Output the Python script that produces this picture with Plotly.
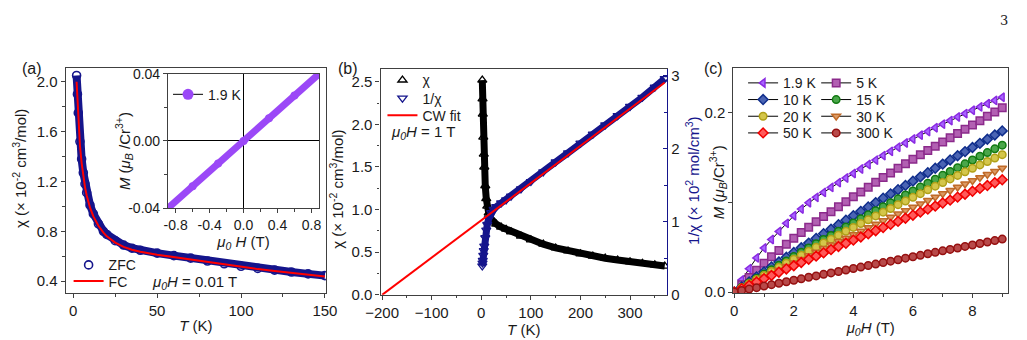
import plotly.graph_objects as go

# ---------------- data ----------------
# (a) susceptibility at mu0H = 0.01 T
T_a = [2, 2.5, 3, 4, 5, 6, 7, 8, 10, 12, 15, 18, 20, 25, 30, 35, 40, 50, 60, 70,
       80, 90, 100, 110, 120, 130, 140, 150]
chi_zfc = [2.05, 1.90, 1.75, 1.52, 1.38, 1.27, 1.18, 1.11, 1.01, 0.94, 0.86, 0.80,
           0.775, 0.725, 0.69, 0.665, 0.648, 0.625, 0.605, 0.585, 0.562, 0.54, 0.52,
           0.503, 0.489, 0.474, 0.459, 0.445]
chi_fc = [2.00, 1.86, 1.72, 1.49, 1.35, 1.24, 1.155, 1.09, 0.99, 0.92, 0.845, 0.79,
          0.76, 0.71, 0.675, 0.652, 0.636, 0.613, 0.594, 0.574, 0.552, 0.532, 0.513,
          0.497, 0.482, 0.467, 0.452, 0.438]

# (a) inset: M(H) at 1.9 K
H_in = [-0.89, -0.6, -0.3, 0.0, 0.3, 0.6, 0.89]
M_in = [-0.040, -0.0270, -0.0135, 0.0, 0.0135, 0.0270, 0.040]

# (b) susceptibility at 1 T and its inverse, Curie-Weiss fit
T_b = [2, 2.5, 3, 4, 5, 6, 8, 10, 12, 15, 20, 25, 30, 40, 50, 60, 80, 100, 125,
       150, 175, 200, 225, 250, 275, 300, 325, 350, 370]
chi_b = [2.52, 2.30, 2.12, 1.85, 1.65, 1.50, 1.28, 1.13, 1.04, 0.96, 0.89, 0.855,
         0.83, 0.795, 0.77, 0.74, 0.69, 0.645, 0.595, 0.55, 0.515, 0.482, 0.455,
         0.43, 0.408, 0.388, 0.37, 0.352, 0.338]
inv_chi_b = [0.397, 0.435, 0.472, 0.541, 0.606, 0.667, 0.781, 0.885, 0.962, 1.042,
             1.124, 1.170, 1.205, 1.258, 1.299, 1.351, 1.449, 1.550, 1.681, 1.818,
             1.942, 2.075, 2.198, 2.326, 2.451, 2.577, 2.703, 2.841, 2.959]
T_fit = [-200, 370]
inv_fit = [0.0, 2.906]

# (c) magnetization isotherms
H_c = [0, 0.25, 0.5, 0.75, 1, 1.25, 1.5, 1.75, 2, 2.25, 2.5, 2.75, 3, 3.25, 3.5,
       3.75, 4, 4.25, 4.5, 4.75, 5, 5.25, 5.5, 5.75, 6, 6.25, 6.5, 6.75, 7, 7.25,
       7.5, 7.75, 8, 8.25, 8.5, 8.75, 9]
M_1p9K = [0, .0135, .026, .038, .049, .0585, .0675, .0765, .085, .0925, .0995, .1055,
          .111, .1165, .1218, .127, .132, .137, .142, .147, .152, .1567, .1613, .166,
          .1705, .1747, .1788, .183, .187, .191, .195, .1988, .2025, .2062, .2098,
          .2134, .217]
M_5K = [0, .0082, .0163, .0242, .032, .0392, .0462, .0532, .060, .0662, .0722, .0782,
        .084, .0895, .095, .1005, .106, .1114, .1168, .1222, .1275, .1327, .1378,
        .1429, .148, .1528, .1576, .1623, .167, .1718, .1765, .1813, .186, .1908,
        .1957, .2005, .2053]
M_10K = [0, .0057, .0113, .0169, .0225, .028, .0334, .0387, .044, .0493, .0545, .0597,
         .065, .070, .075, .080, .085, .0899, .0948, .0996, .1045, .1093, .114, .1188,
         .1235, .1283, .133, .1378, .1425, .1471, .1518, .1564, .161, .1656, .1702,
         .1749, .1795]
M_15K = [0, .0051, .0101, .0151, .020, .0249, .0298, .0347, .0395, .0443, .049, .0538,
         .0585, .0631, .0677, .0724, .077, .0815, .086, .0905, .095, .0994, .1038,
         .1081, .1125, .1169, .1213, .1256, .130, .1343, .1385, .1428, .147, .1512,
         .1553, .1595, .1636]
M_20K = [0, .0047, .0093, .0139, .0185, .023, .0275, .032, .0365, .041, .0455, .050,
         .0545, .0589, .0633, .0676, .072, .0763, .0805, .0848, .089, .0931, .0973,
         .1014, .1055, .1096, .1138, .1179, .122, .126, .1299, .1339, .1378, .1416,
         .1454, .1492, .153]
M_30K = [0, .0042, .0083, .0124, .0165, .0205, .0245, .0285, .0325, .0365, .0405,
         .0445, .0485, .0524, .0563, .0601, .064, .0679, .0718, .0756, .0795, .0833,
         .087, .0908, .0945, .0983, .102, .1058, .1095, .1131, .1168, .1204, .124,
         .1275, .131, .1345, .138]
M_50K = [0, .0037, .0074, .0111, .0148, .0184, .0221, .0257, .0293, .0329, .0365, .04,
         .0436, .0472, .0507, .0543, .0578, .0613, .0648, .0683, .0718, .0753, .0787,
         .0822, .0856, .089, .0923, .0957, .0991, .1024, .1057, .1089, .1122, .1154,
         .1186, .1218, .125]
M_300K = [0, .0016, .0033, .0049, .0066, .0082, .0098, .0115, .0131, .0147, .0164,
          .018, .0197, .0213, .0229, .0246, .0262, .0278, .0295, .0311, .0328, .0344,
          .036, .0377, .0393, .0409, .0426, .0442, .0459, .0475, .0491, .0508, .0524,
          .054, .0557, .0573, .059]
labels_c = ["1.9 K", "5 K", "10 K", "15 K", "20 K", "30 K", "50 K", "300 K"]

# ---------------- styling ----------------
W, Hpx = 1027, 340
FONT = "Liberation Sans, Arial, sans-serif"
NAVY = "#15158c"
RED = "#ff0000"
PURPLE = "#9b48f7"
AXC = "#404040"
TXT = "#1a1a1a"
TF = 15  # tick font size


def dx(a, b):
    return [a / W, b / W]


def dy(top, bottom):
    return [1 - bottom / Hpx, 1 - top / Hpx]


def leg(xo, yc, size=14):
    return dict(x=xo / W, y=1 - yc / Hpx, xanchor="left", yanchor="middle",
                bgcolor="rgba(0,0,0,0)", borderwidth=0,
                font=dict(family=FONT, size=size, color=TXT))


fig = go.Figure()

# ---- (a) ----
fig.add_trace(go.Scatter(x=T_a, y=chi_zfc, mode="lines", line=dict(color=NAVY, width=8),
                         showlegend=False, xaxis="x", yaxis="y", hoverinfo="skip"))
fig.add_trace(go.Scatter(x=T_a, y=chi_zfc, mode="markers", name="ZFC",
                         marker=dict(symbol="circle-open", size=8, color=NAVY,
                                     line=dict(width=1.6)),
                         xaxis="x", yaxis="y", legend="legend"))
fig.add_trace(go.Scatter(x=T_a, y=chi_fc, mode="lines", name="FC",
                         line=dict(color=RED, width=2), xaxis="x", yaxis="y",
                         legend="legend2"))

# ---- inset ----
fig.add_trace(go.Scatter(x=H_in, y=M_in, mode="lines+markers",
                         line=dict(color=PURPLE, width=7),
                         marker=dict(symbol="circle", size=8, color=PURPLE),
                         showlegend=False, xaxis="x2", yaxis="y2"))
fig.add_trace(go.Scatter(x=[None], y=[None], mode="lines+markers", name="1.9 K",
                         line=dict(color="black", width=1),
                         marker=dict(symbol="circle", size=11, color=PURPLE),
                         xaxis="x2", yaxis="y2", legend="legend3"))

# ---- (b) ----
fig.add_trace(go.Scatter(x=T_b, y=chi_b, mode="lines", line=dict(color="black", width=7),
                         showlegend=False, xaxis="x3", yaxis="y3"))
fig.add_trace(go.Scatter(x=T_b, y=chi_b, mode="markers", name="χ",
                         marker=dict(symbol="triangle-up-open", size=8, color="black",
                                     line=dict(width=1.3)),
                         xaxis="x3", yaxis="y3", legend="legend4"))
fig.add_trace(go.Scatter(x=T_b, y=inv_chi_b, mode="lines", line=dict(color=NAVY, width=7),
                         showlegend=False, xaxis="x3", yaxis="y4"))
fig.add_trace(go.Scatter(x=T_b, y=inv_chi_b, mode="markers", name="1/χ",
                         marker=dict(symbol="triangle-down-open", size=8, color=NAVY,
                                     line=dict(width=1.3)),
                         xaxis="x3", yaxis="y4", legend="legend5"))
fig.add_trace(go.Scatter(x=T_fit, y=inv_fit, mode="lines", name="CW fit",
                         line=dict(color=RED, width=2), xaxis="x3", yaxis="y4",
                         legend="legend6"))

# ---- (c) ----
series_c = [M_1p9K, M_5K, M_10K, M_15K, M_20K, M_30K, M_50K, M_300K]
edge_c = ["#8a2be2", "#8b2a8b", "#102e8c", "#127a12", "#b0a018", "#c06a28",
          "#f00000", "#961010"]
fill_c = ["#a865ff", "#b25fb2", "#4a64b4", "#4aa64a", "#d4c64a", "#dc9a64",
          "#ff5a5a", "#b84a4a"]
symbols_c = ["triangle-left", "square", "diamond", "circle", "circle",
             "triangle-down", "diamond", "circle"]
leg_pos_c = [(747, 79), (822, 79), (747, 96.5), (822, 96.5), (747, 114), (822, 114),
             (747, 131.5), (822, 131.5)]
for i in range(8):
    fig.add_trace(go.Scatter(
        x=H_c, y=series_c[i], mode="lines+markers", name=labels_c[i],
        line=dict(color="black", width=1),
        marker=dict(symbol=symbols_c[i], size=7.5, color=fill_c[i],
                    line=dict(color=edge_c[i], width=1.5)),
        xaxis="x4", yaxis="y5", legend="legend%d" % (7 + i)))

# ---------------- axes ----------------
def ax(**kw):
    base = dict(showline=True, linecolor=AXC, linewidth=1.2, mirror=True,
                ticks="outside", ticklen=4, tickwidth=1.1, tickcolor=AXC,
                showgrid=False, zeroline=False,
                tickfont=dict(family=FONT, size=TF, color=TXT),
                title_font=dict(family=FONT, size=15, color=TXT))
    base.update(kw)
    return base


def minor(d, tick0=0, side="outside", col=AXC):
    return dict(tick0=tick0, dtick=d, ticks=side, ticklen=2.5, tickcolor=col,
                showgrid=False)


layout = dict(
    width=W, height=Hpx, margin=dict(l=0, r=0, t=0, b=0),
    paper_bgcolor="white", plot_bgcolor="white",
    font=dict(family=FONT, size=14, color=TXT),
    xaxis=ax(domain=dx(52, 319), anchor="y", range=[-4.5, 150.6],
             tickvals=[0, 50, 100, 150], minor=minor(25),
             title=dict(text="<i>T</i> (K)", standoff=2)),
    yaxis=ax(domain=dy(63, 299), anchor="x", range=[0.306, 2.11],
             tickvals=[0.4, 0.8, 1.2, 1.6, 2.0], tickformat=".1f",
             minor=minor(0.2, tick0=0.4)),
    xaxis2=ax(domain=dx(157, 312), anchor="y2", range=[-0.89, 0.89],
              tickvals=[-0.8, -0.4, 0, 0.4, 0.8],
              ticktext=["-0.8", "-0.4", "0.0", "0.4", "0.8"],
              minor=minor(0.2),
              tickfont=dict(family=FONT, size=14, color=TXT),
              zeroline=True, zerolinecolor="black", zerolinewidth=1,
              title=dict(text="<i>μ<sub>0</sub></i> <i>H</i> (T)", standoff=0)),
    yaxis2=ax(domain=dy(69, 210), anchor="x2", range=[-0.04, 0.04],
              tickvals=[-0.04, 0, 0.04], ticktext=["-0.04", "0.00", "0.04"],
              minor=minor(0.02),
              tickfont=dict(family=FONT, size=14, color=TXT),
              zeroline=True, zerolinecolor="black", zerolinewidth=1),
    xaxis3=ax(domain=dx(375, 669), anchor="y3", range=[-203.3, 374.7],
              tickvals=[-200, -100, 0, 100, 200, 300], minor=minor(50),
              title=dict(text="<i>T</i> (K)", standoff=2)),
    yaxis3=ax(domain=dy(64, 301), anchor="x3", range=[0, 2.65], mirror=False,
              tickvals=[0, 0.5, 1.0, 1.5, 2.0, 2.5], tickformat=".1f",
              minor=minor(0.25)),
    yaxis4=dict(overlaying="y3", side="right", anchor="x3", range=[0, 3.09],
                showline=True, linecolor=NAVY, linewidth=1.2, showgrid=False,
                zeroline=False, ticks="inside", ticklen=4, tickcolor=NAVY,
                tickvals=[0, 1, 2, 3],
                minor=minor(0.5, side="inside", col=NAVY),
                tickfont=dict(family=FONT, size=TF, color=TXT)),
    xaxis4=ax(domain=dx(737, 1019), anchor="y5", range=[-0.03, 9.2],
              tickvals=[0, 2, 4, 6, 8], minor=minor(1),
              title=dict(text="<i>μ<sub>0</sub>H</i> (T)", standoff=2)),
    yaxis5=ax(domain=dy(63, 299), anchor="x4", range=[-0.001, 0.2495],
              tickvals=[0, 0.1, 0.2], ticktext=["0.0", "", "0.2"]),
    legend=leg(55, 270),
    legend2=leg(55, 287),
    legend3=leg(157, 91),
    legend4=leg(377, 76),
    legend5=leg(377, 95),
    legend6=leg(377, 113),
)
for i, (xo, yc) in enumerate(leg_pos_c):
    layout["legend%d" % (7 + i)] = leg(xo, yc)

fig.update_layout(**layout)

# ---------------- annotations ----------------
def note(text, xp, yp, size=16, anchor="left", family=FONT, color=TXT, angle=0):
    fig.add_annotation(text=text, x=xp / W, y=1 - yp / Hpx, xref="paper", yref="paper",
                       xanchor=anchor, yanchor="middle", showarrow=False,
                       textangle=angle, font=dict(family=family, size=size, color=color))


# panel labels
note("(a)", 5, 64)
note("(b)", 329, 64)
note("(c)", 705, 64)
# field annotations
note("<i>μ<sub>0</sub>H</i> = 0.01 T", 139, 288, size=15)
note("<i>μ<sub>0</sub>H</i> = 1 T", 384, 131, size=15)
# rotated y-axis titles
note("χ (× 10<sup>-2</sup> cm<sup>3</sup>/mol)", 4, 168, size=15, anchor="center", angle=-90)
note("<i>M</i> (<i>μ<sub>B</sub></i> /Cr<sup>3+</sup>)", 112, 150, size=15, anchor="center", angle=-90)
note("χ (× 10<sup>-2</sup> cm<sup>3</sup>/mol)", 329, 190, size=15, anchor="center", angle=-90)
note("1/χ (× 10<sup>2</sup> mol/cm<sup>3</sup>)", 695, 181, size=15, anchor="center",
     angle=-90, color=NAVY)
note("<i>M</i> (<i>μ<sub>B</sub></i>/Cr<sup>3+</sup>)", 721, 183, size=15, anchor="center", angle=-90)
# page number
note("3", 1021, 13, size=13, anchor="right", family="DejaVu Serif, serif")

fig.write_html("out.html")
